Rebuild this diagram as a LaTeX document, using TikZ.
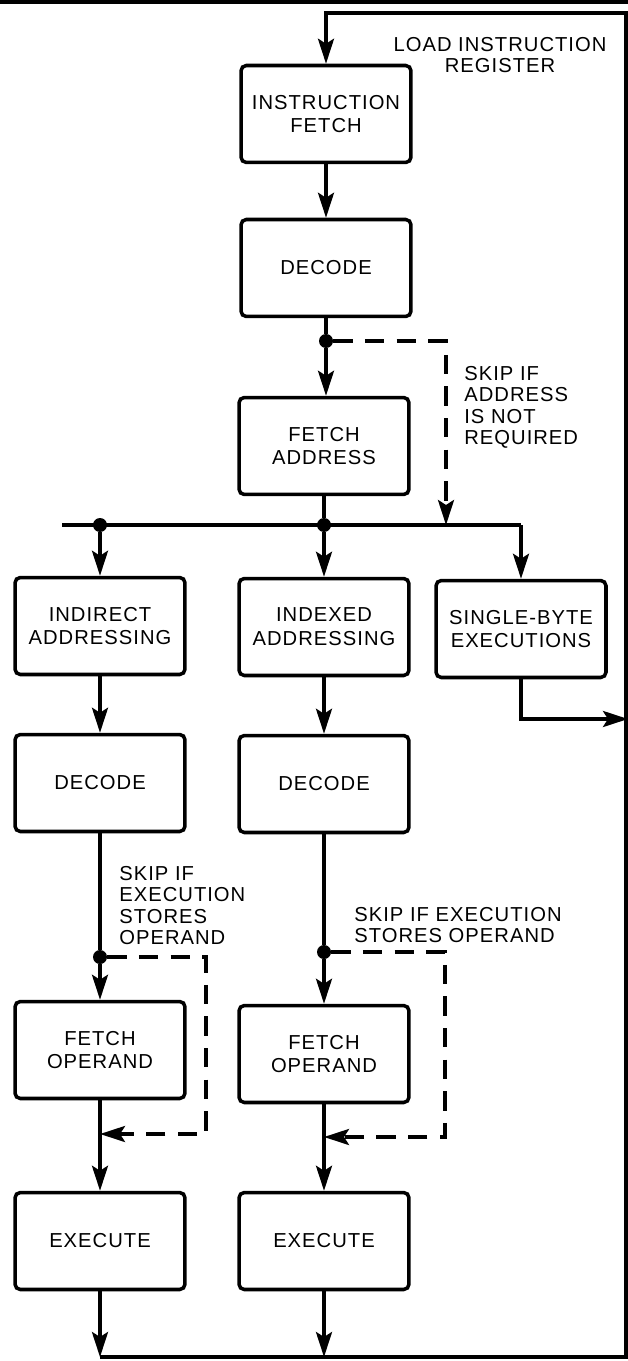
\documentclass[tikz,border=0pt]{standalone}
\usepackage{fontspec}
\newfontfamily\diagfont{Liberation Sans}[LetterSpace=5]
\usetikzlibrary{arrows.meta,positioning}
\tikzset{
  stepbox/.style={draw, rounded corners=3pt, line width=2pt, align=center,
    minimum width=3.4cm, minimum height=1.94cm, inner sep=0pt,
    font=\diagfont\fontsize{11.5}{13.5}\selectfont},
  lbl/.style={align=left, inner sep=0pt, font=\diagfont\fontsize{11.5}{12.2}\selectfont},
  flow/.style={line width=2pt},
  arr/.style={-{Stealth[length=5mm, width=3.2mm, inset=1mm]}, line width=2pt},
  skiparr/.style={arr, dash pattern=on 11pt off 7pt},
  dot/.style={circle, fill, inner sep=0pt, minimum size=2.8mm}
}
\begin{document}
\begin{tikzpicture}[x=0.02cm,y=-0.02cm]
  \useasboundingbox (0,0) rectangle (628,1361);
  \draw[line width=2pt] (0,2) -- (628,2);

  \node[stepbox] (ifetch) at (326,114) {INSTRUCTION\\FETCH};
  \node[stepbox] (dec) at (326,268) {DECODE};
  \node[stepbox] (faddr) at (324,446) {FETCH\\ADDRESS};
  \node[stepbox] (indir) at (100,626) {INDIRECT\\ADDRESSING};
  \node[stepbox] (indx) at (324,627) {INDEXED\\ADDRESSING};
  \node[stepbox] (single) at (521,629) {SINGLE-BYTE\\EXECUTIONS};
  \node[stepbox] (decA) at (100,783) {DECODE};
  \node[stepbox] (decB) at (324,784) {DECODE};
  \node[stepbox] (fopA) at (100,1050) {FETCH\\OPERAND};
  \node[stepbox] (fopB) at (324,1054) {FETCH\\OPERAND};
  \node[stepbox] (exeA) at (100,1241) {EXECUTE};
  \node[stepbox] (exeB) at (324,1241) {EXECUTE};

  \node[lbl, align=center, anchor=north] (loadlbl) at (500,37) {LOAD INSTRUCTION\\REGISTER};
  \node[lbl, anchor=north west] (skipaddr) at (464,366) {SKIP IF\\ADDRESS\\IS NOT\\REQUIRED};
  \node[lbl, anchor=north west] (skipA) at (119,866) {SKIP IF\\EXECUTION\\STORES\\OPERAND};
  \node[lbl, anchor=north west] (skipB) at (354,907) {SKIP IF EXECUTION\\STORES OPERAND};

  \coordinate (retTL) at (326,13);
  \coordinate (retTR) at (626,13);
  \coordinate (retBR) at (626,1357);
  \coordinate (retBL) at (100,1357);
  \draw[arr] (retBL) -- (retBR) -- (retTR) -- (retTL) -- (ifetch);
  \draw[arr] (ifetch) -- (dec);

  \node[dot] (dTop) at (326,341) {};
  \draw[flow] (dec) -- (dTop);
  \draw[arr] (dTop) -- (faddr.north -| dTop);
  \coordinate (sT1) at (446,341);
  \coordinate (sT2) at (446,525);
  \draw[skiparr] (dTop) -- (sT1) -- (sT2);

  \coordinate (busL) at (62,525);
  \coordinate (busR) at (521,525);
  \node[dot] (jA) at (100,525) {};
  \node[dot] (jB) at (324,525) {};
  \draw[flow] (faddr) -- (jB);
  \draw[flow] (busL) -- (busR);
  \draw[arr] (jA) -- (indir);
  \draw[arr] (jB) -- (indx);
  \draw[arr] (busR) -- (single);
  \coordinate (outR) at (628,719);
  \draw[arr] (single.south) |- (outR);

  \draw[arr] (indir) -- (decA);
  \draw[arr] (indx) -- (decB);

  \node[dot] (dA) at (100,957) {};
  \coordinate (sA1) at (206,957);
  \coordinate (sA2) at (206,1134);
  \coordinate (mA) at (100,1134);
  \draw[flow] (decA) -- (dA);
  \draw[arr] (dA) -- (fopA);
  \draw[skiparr] (dA) -- (sA1) -- (sA2) -- (mA);
  \draw[arr] (fopA) -- (exeA);
  \draw[arr] (exeA) -- (exeA |- retBL);

  \node[dot] (dB) at (324,952) {};
  \coordinate (sB1) at (445,952);
  \coordinate (sB2) at (445,1137);
  \coordinate (mB) at (324,1137);
  \draw[flow] (decB) -- (dB);
  \draw[arr] (dB) -- (fopB);
  \draw[skiparr] (dB) -- (sB1) -- (sB2) -- (mB);
  \draw[arr] (fopB) -- (exeB);
  \draw[arr] (exeB) -- (exeB |- retBL);
\end{tikzpicture}
\end{document}
